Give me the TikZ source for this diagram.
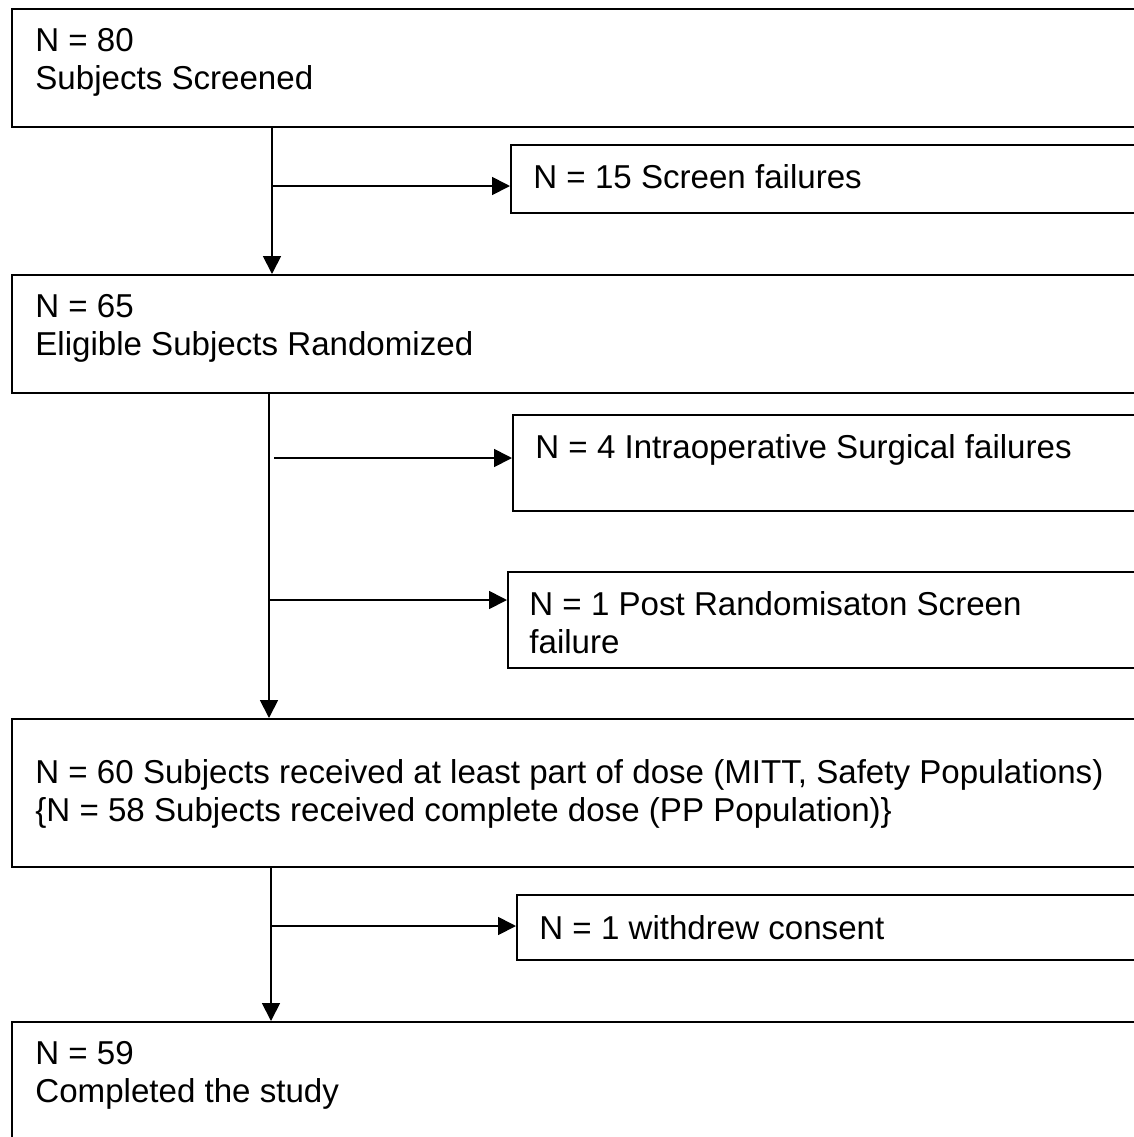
\documentclass[tikz,border=0pt]{standalone}
\usepackage{fontspec}
\setmainfont{Liberation Sans}
\usetikzlibrary{arrows.meta,positioning}

\begin{document}
\begin{tikzpicture}[x=0.5pt,y=-0.5pt,
  stagebox/.style={draw,line width=0.9pt,anchor=north west,minimum width=569.5pt,inner sep=0pt},
  sidebox/.style={draw,line width=0.9pt,anchor=north west,minimum width=320pt,inner sep=0pt},
  lbl/.style={anchor=north west,align=left,inner sep=0pt,font=\fontsize{16.55}{19}\selectfont},
  flow/.style={line width=0.9pt,-{Triangle[length=9pt,width=9pt]}}
]
  \useasboundingbox (0,0) rectangle (1134,1137);
  \clip (0,0) rectangle (1134,1137);

  % Screening
  \node[stagebox,minimum height=59pt] (box1) at (11,8) {};
  \node[lbl] (t1) at ([shift={(24,20)}]box1.north west) {N = 80\\Subjects Screened};
  \node[sidebox,minimum height=34pt] (side1) at (510,144) {};
  \node[lbl] (s1) at ([shift={(23,20)}]side1.north west) {N = 15 Screen failures};

  % Randomisation
  \node[stagebox,minimum height=59pt] (box2) at (11,274) {};
  \node[lbl] (t2) at ([shift={(24,20)}]box2.north west) {N = 65\\Eligible Subjects Randomized};
  \node[sidebox,minimum height=48pt] (side2) at (512,414) {};
  \node[lbl] (s2) at ([shift={(23,20)}]side2.north west) {N = 4 Intraoperative Surgical failures};
  \node[sidebox,minimum height=48pt] (side3) at (507,571) {};
  \node[lbl] (s3) at ([shift={(22,20)}]side3.north west) {N = 1 Post Randomisaton Screen\\failure};

  % Dosing
  \node[stagebox,minimum height=74pt] (box3) at (11,718) {};
  \node[lbl] (t3) at ([shift={(24,41)}]box3.north west) {N = 60 Subjects received at least part of dose (MITT, Safety Populations)\\\{N = 58 Subjects received complete dose (PP Population)\}};
  \node[sidebox,minimum height=32.5pt] (side4) at (516,894) {};
  \node[lbl] (s4) at ([shift={(23,21)}]side4.north west) {N = 1 withdrew consent};

  % Completion
  \node[stagebox,minimum height=75pt] (box4) at (11,1021) {};
  \node[lbl] (t4) at ([shift={(24,20)}]box4.north west) {N = 59\\Completed the study};

  % Connecting arrows
  \coordinate (j1) at (272,186);
  \coordinate (j2) at (274,458);
  \coordinate (j3) at (269,600);
  \coordinate (j4) at (271,926);
  \draw[flow] (box1.south -| j1) -- (box2.north -| j1);
  \draw[flow] (j1) -- (side1.west |- j1);
  \draw[flow] (box2.south -| j3) -- (box3.north -| j3);
  \draw[flow] (j2) -- (side2.west |- j2);
  \draw[flow] (j3) -- (side3.west |- j3);
  \draw[flow] (box3.south -| j4) -- (box4.north -| j4);
  \draw[flow] (j4) -- (side4.west |- j4);
\end{tikzpicture}
\end{document}
